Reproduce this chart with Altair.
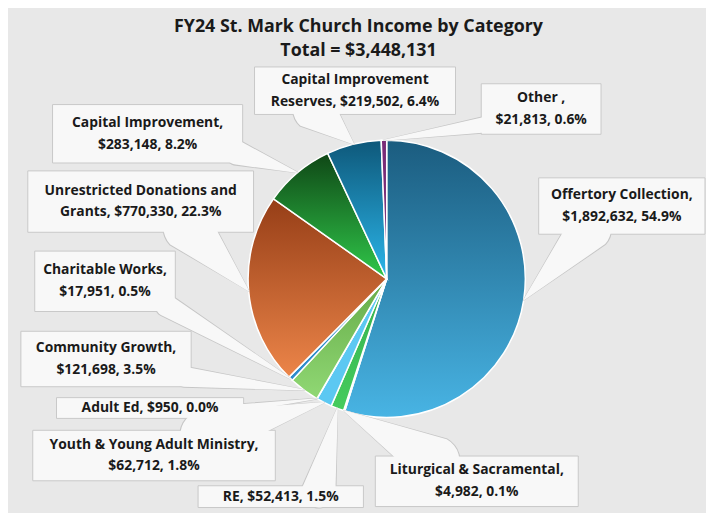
import altair as alt
import pandas as pd

# ---------------- data ----------------
categories = [
    "Offertory Collection", "Liturgical & Sacramental", "RE",
    "Youth & Young Adult Ministry", "Adult Ed", "Community Growth",
    "Charitable Works", "Unrestricted Donations and Grants",
    "Capital Improvement", "Capital Improvement Reserves", "Other",
]
amounts = [1892632, 4982, 52413, 62712, 950, 121698, 17951, 770330, 283148, 219502, 21813]
label_lines = [
    ["Offertory Collection,", "$1,892,632, 54.9%"],
    ["Liturgical & Sacramental,", "$4,982, 0.1%"],
    ["RE, $52,413, 1.5%"],
    ["Youth & Young Adult Ministry,", "$62,712, 1.8%"],
    ["Adult Ed, $950, 0.0%"],
    ["Community Growth,", "$121,698, 3.5%"],
    ["Charitable Works,", "$17,951, 0.5%"],
    ["Unrestricted Donations and", "Grants, $770,330, 22.3%"],
    ["Capital Improvement,", "$283,148, 8.2%"],
    ["Capital Improvement", "Reserves, $219,502, 6.4%"],
    ["Other ,", "$21,813, 0.6%"],
]
title_lines = ["FY24 St. Mark Church Income by Category", "Total = $3,448,131"]

# ---------------- layout (page pixel coordinates) ----------------
W, H = 705, 505
CX, CY, R = 390.5, 279.0, 140.0
LINE_H = 22
box_x0 = [544, 379, 200, 33, 57, 21, 35, 28, 53, 257, 486]
box_x1 = [712, 584, 367, 278, 246, 193, 177, 256, 245, 460, 607]
box_y0 = [177, 458, 488, 432, 399, 332, 251, 170, 103, 65, 82]
box_y1 = [234, 509, 510, 483, 420, 388, 312, 232, 162, 113, 133]
ptr_x = [595, 439, 322, 207, 240, 187, 168, 190, 240, 318, 492]
ptr_y = [229, 463, 493, 437, 410, 378, 306, 227, 152, 108, 123]
ptr_w = [44, 50, 34, 50, 8, 20, 22, 50, 24, 44, 16]
title_x = [362, 362]
title_y = [25, 49]

# ---------------- styles ----------------
fills = [
    ("#1b5c7f", "#48b4e4"),
    "#e07b39",
    ("#34b04c", "#46cc5e"),
    "#5cc8f2",
    "#999999",
    ("#66ab48", "#90d874"),
    "#2e8ccc",
    ("#963e17", "#ec8549"),
    ("#0f4716", "#30c84a"),
    ("#0e587a", "#2bb6ea"),
    "#7a2c78",
]


def paint(f):
    if isinstance(f, tuple):
        return {"gradient": "linear", "x1": 0, "y1": 0, "x2": 0, "y2": 1,
                "stops": [{"offset": 0, "color": f[0]}, {"offset": 1, "color": f[1]}]}
    return f


conds = [{"test": f"datum.cat === '{c}'", "value": paint(f)} for c, f in zip(categories, fills)]

df = pd.DataFrame({
    "cat": categories, "amount": amounts, "idx": list(range(len(categories))),
    "label": ["\n".join(l) for l in label_lines],
    "nlines": [len(l) for l in label_lines],
    "x0": box_x0, "x1": box_x1, "y0": box_y0, "y1": box_y1,
    "ptr_x": ptr_x, "ptr_y": ptr_y, "ptr_w": ptr_w,
})
tdf = pd.DataFrame({"t": title_lines, "x": title_x, "y": title_y})

xs = alt.Scale(domain=[8, 8 + W], nice=False, zero=False)
ys = alt.Scale(domain=[8, 8 + H], nice=False, zero=False, reverse=True)
FONT = "'Open Sans', Roboto, sans-serif"

base = alt.Chart(df)

pie = base.mark_arc(radius=R, stroke="white", strokeWidth=1.5).encode(
    theta=alt.Theta("amount:Q", stack=True),
    order=alt.Order("idx:Q"),
    color=alt.value("#999999", condition=conds),
    x=alt.value(CX - 8),
    y=alt.value(CY - 8),
)

ptr = (
    base.transform_window(cum="sum(amount)", sort=[{"field": "idx"}], frame=[None, 0])
    .transform_joinaggregate(total="sum(amount)")
    .transform_calculate(
        mid="(datum.cum - datum.amount / 2) / datum.total * 2 * PI",
        a="0", b="1",
    )
    .transform_calculate(
        tx=f"{CX} + {R} * sin(datum.mid)",
        ty=f"{CY} - {R} * cos(datum.mid)",
    )
    .transform_fold(["a", "b"], as_=["end", "pos"])
    .transform_calculate(
        px="datum.end === 'a' ? datum.ptr_x : datum.tx",
        py="datum.end === 'a' ? datum.ptr_y : datum.ty",
        sz="datum.end === 'a' ? datum.ptr_w : 0",
        sz2="datum.end === 'a' ? datum.ptr_w + 2.2 : 1.6",
    )
)
ptr_enc = dict(
    x=alt.X("px:Q", scale=xs, axis=None),
    y=alt.Y("py:Q", scale=ys, axis=None),
    detail="cat:N",
    order="pos:Q",
)
ptr_outline = ptr.mark_trail(color="#c6c6c6").encode(
    size=alt.Size("sz2:Q", scale=None, legend=None), **ptr_enc)
ptr_fill = ptr.mark_trail(color="#f8f8f8").encode(
    size=alt.Size("sz:Q", scale=None, legend=None), **ptr_enc)

boxes = base.mark_rect(fill="#f8f8f8", stroke="#c8c8c8", strokeWidth=1).encode(
    x=alt.X("x0:Q", scale=xs, axis=None), x2="x1:Q",
    y=alt.Y("y0:Q", scale=ys, axis=None), y2="y1:Q",
)

labels = base.transform_calculate(
    cx="(datum.x0 + datum.x1) / 2",
    cy=f"(datum.y0 + datum.y1) / 2 - (datum.nlines - 1) * {LINE_H / 2}",
).mark_text(
    font=FONT, fontWeight="bold", fontSize=14, color="#1a1a1a",
    lineBreak="\n", lineHeight=LINE_H, align="center", baseline="middle",
).encode(
    x=alt.X("cx:Q", scale=xs, axis=None),
    y=alt.Y("cy:Q", scale=ys, axis=None),
    text="label:N",
)

title = alt.Chart(tdf).mark_text(
    font=FONT, fontWeight="bold", fontSize=18, color="#1a1a1a",
    align="center", baseline="middle",
).encode(
    x=alt.X("x:Q", scale=xs, axis=None),
    y=alt.Y("y:Q", scale=ys, axis=None),
    text="t:N",
)

chart = alt.layer(pie, ptr_outline, boxes, ptr_fill, labels, title).properties(
    width=W, height=H, background="#e8e8e8", padding=0, autosize="none",
).configure_view(strokeWidth=0)

chart.save("out.html", embed_options={"renderer": "svg", "actions": False})
